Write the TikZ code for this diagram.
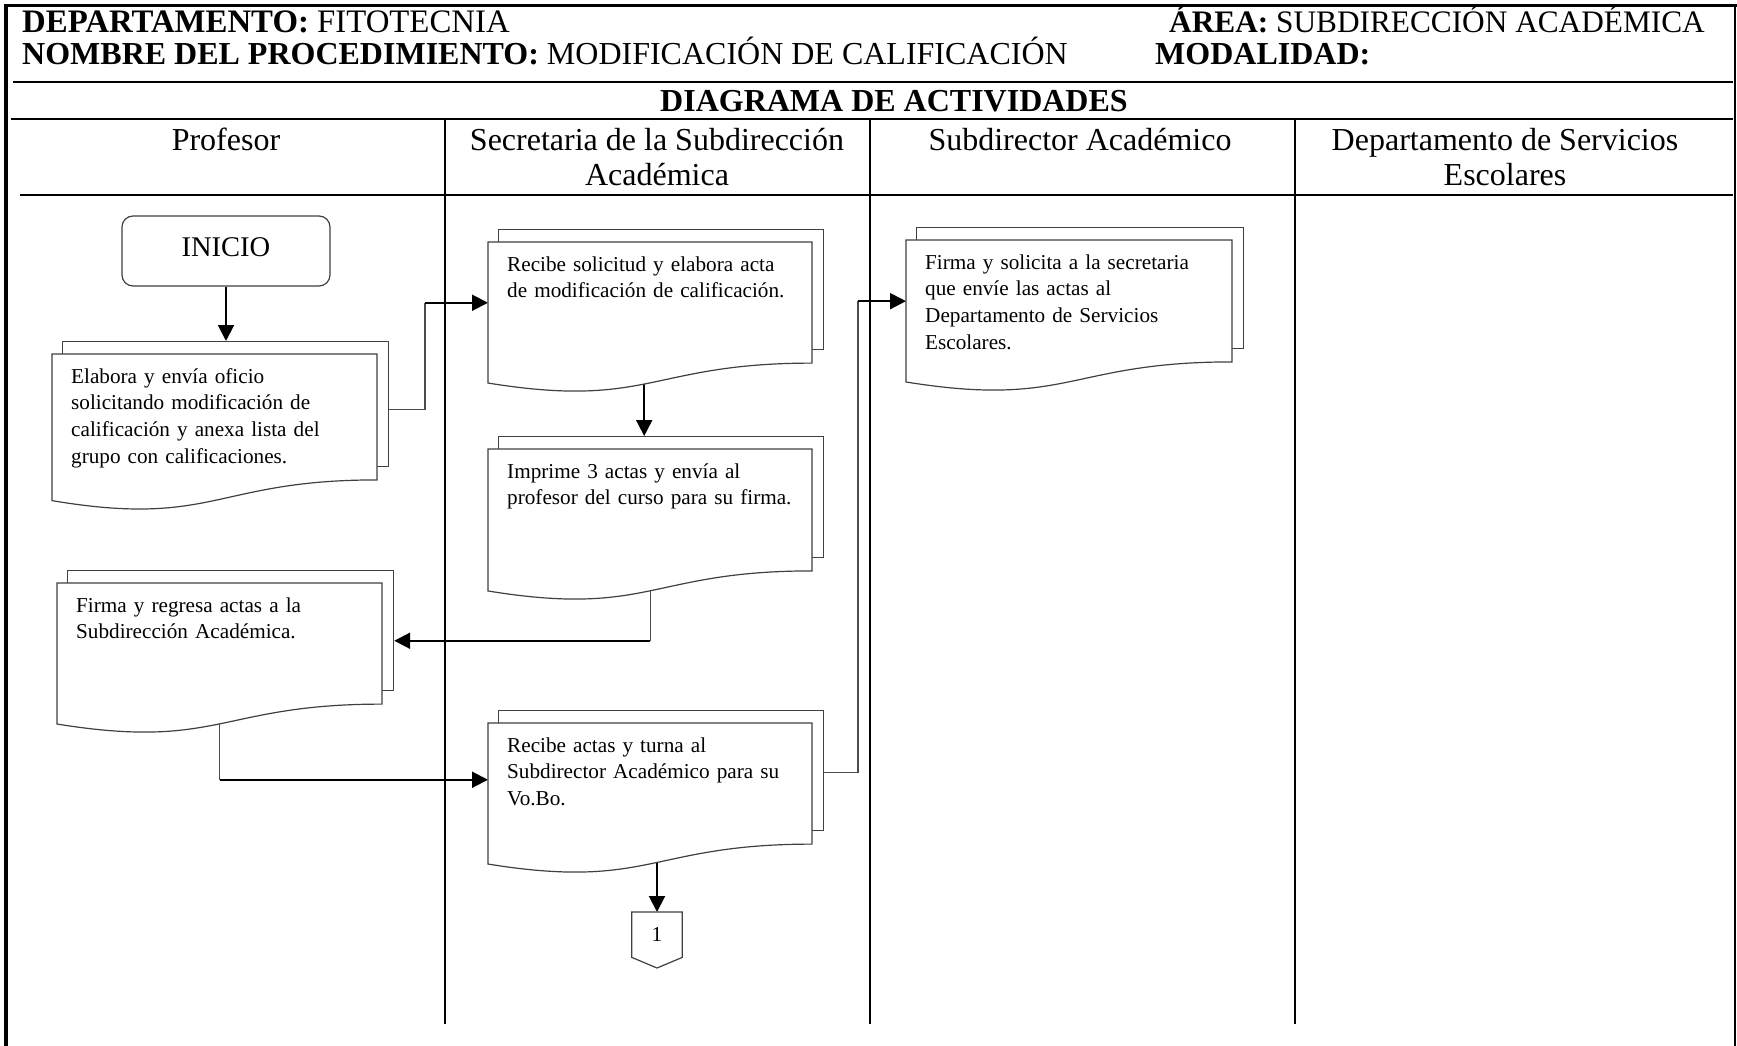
\documentclass[tikz,border=0pt]{standalone}
\usepackage{fontspec}
\setmainfont{Liberation Serif}
\usetikzlibrary{arrows.meta,calc}
\pgfdeclarelayer{bg}
\pgfsetlayers{bg,main}
\tikzset{
  lane/.style={line width=2pt, black},
  conn/.style={line width=2pt, black, -{Triangle[length=16pt,width=16pt]}},
  thinconn/.style={line width=1.3pt, black!70},
  shp/.style={draw=black!75, line width=1.2pt, fill=white},
  boxtext/.style={font=\fontsize{21.2}{26.7}\selectfont, align=left, anchor=north west, inner sep=0pt, text width=320pt},
  hdr/.style={font=\fontsize{32}{35}\selectfont, anchor=base west, inner sep=0pt},
  colh/.style={font=\fontsize{32}{35}\selectfont, align=center, anchor=north, inner sep=0pt},
}
% #1 name, #2 left, #3 top, #4 right, #5 height, #6 text
\newcommand\flowdoc[6]{%
  \pgfmathsetmacro\dL{#2}\pgfmathsetmacro\dT{#3}\pgfmathsetmacro\dR{#4}\pgfmathsetmacro\dH{#5}%
  \pgfmathsetmacro\dW{\dR-\dL}%
  \pgfmathsetmacro\dRB{\dT+0.802*\dH}%
  \pgfmathsetmacro\dLB{\dT+0.934*\dH}%
  \pgfmathsetmacro\dCB{\dT+1.1075*\dH}%
  \pgfmathsetmacro\dM{(\dL+\dR)/2}%
  \pgfmathsetmacro\bW{\dW+1}%
  \pgfmathsetmacro\bH{0.802*\dH-1}%
  \node[shp, rectangle, inner sep=0pt, minimum width=\bW pt, minimum height=\bH pt, anchor=north west] (#1b) at (\dL+10,\dT-13) {};
  \path[shp] (\dL,\dT) -- (\dR,\dT) -- (\dR,\dRB) .. controls (\dM,\dRB) and (\dM,\dCB) .. (\dL,\dLB) -- cycle;
  \pgfmathsetmacro\fH{0.802*\dH}%
  \node[inner sep=0pt, minimum width=\dW pt, minimum height=\fH pt, anchor=north west] (#1) at (\dL,\dT) {};
  \node[boxtext] (#1t) at (\dL+19,\dT+14) {\rule{0pt}{15pt}#6};
}
\begin{document}
\begin{tikzpicture}[x=1pt,y=-1pt]
\useasboundingbox (0,0) rectangle (1737,1046);
\begin{pgfonlayer}{bg}
\fill[white] (0,0) rectangle (1737,1046);
\end{pgfonlayer}

% frame and table lines
\draw[line width=3.5pt] (4,5.5) -- (1737,5.5);
\draw[line width=4pt] (6,4) -- (6,1046);
\draw[line width=1.5pt] (1735,4) -- (1735,1046);
\draw[line width=2pt] (13,82) -- (1733,82);
\draw[line width=2pt] (11,119) -- (1733,119);
\draw[line width=2pt] (20,195) -- (1733,195);
\draw[lane] (445,119) -- (445,1024);
\draw[lane] (870,119) -- (870,1024);
\draw[lane] (1295,119) -- (1295,1024);

% header texts
\node[hdr, font=\fontsize{32.8}{35}\selectfont] (dep) at (22,33) {\textbf{DEPARTAMENTO:} FITOTECNIA};
\node[hdr, font=\fontsize{31.3}{35}\selectfont] (area) at (1169,33) {\textbf{ÁREA:} SUBDIRECCIÓN ACADÉMICA};
\node[hdr] (nom) at (22,65) {\textbf{NOMBRE DEL PROCEDIMIENTO:} MODIFICACIÓN DE CALIFICACIÓN};
\node[hdr] (mod) at (1155,65) {\textbf{MODALIDAD:}};
\node[hdr, anchor=base] (diag) at (894,112) {\textbf{DIAGRAMA DE ACTIVIDADES}};

% column headers
\node[colh] (h1) at (226,128) {\rule{0pt}{22pt}Profesor};
\node[colh] (h2) at (657,128) {\rule{0pt}{22pt}Secretaria de la Subdirección\\Académica};
\node[colh] (h3) at (1080,128) {\rule{0pt}{22pt}Subdirector Académico};
\node[colh] (h4) at (1505,128) {\rule{0pt}{22pt}Departamento de Servicios\\Escolares};

% start
\node[draw=black!75, line width=1.2pt, fill=white, rounded corners=11pt, minimum width=208pt, minimum height=70pt, inner sep=0pt,
      text height=19pt, text depth=9pt, font=\fontsize{28.5}{30}\selectfont] (inicio) at (226,251) {INICIO};

% documents
\flowdoc{doc1}{52}{354}{377}{157}{Elabora y envía oficio\\solicitando modificación de\\calificación y anexa lista del\\grupo con calificaciones.}
\flowdoc{doc2}{488}{242}{812}{151}{Recibe solicitud y elabora acta\\de modificación de calificación.}
\flowdoc{doc3}{488}{449}{812}{152}{Imprime 3 actas y envía al\\profesor del curso para su firma.}
\flowdoc{doc4}{57}{583}{382}{151}{Firma y regresa actas a la\\Subdirección Académica.}
\flowdoc{doc5}{488}{723}{812}{151}{Recibe actas y turna al\\Subdirector Académico para su\\Vo.Bo.}
\flowdoc{doc6}{906}{240}{1232}{152}{Firma y solicita a la secretaria\\que envíe las actas al\\Departamento de Servicios\\Escolares.}

% off-page connector
\node[inner sep=0pt, minimum width=50pt, minimum height=45pt, anchor=north] (off) at (657,912) {};
\path[shp] (off.north west) -- (off.north east) -- (off.south east) -- (657,968) -- (off.south west) -- cycle;
\node[font=\fontsize{21.2}{24}\selectfont, inner sep=0pt] (offt) at (off.center) {1};

% connectors
\begin{pgfonlayer}{bg}
\draw[conn] (inicio.south) -- (inicio.south |- doc1b.north);
\coordinate (c12) at ($(doc2.west)+(-63,0)$);
\draw[thinconn] ([yshift=8pt]doc1.east) -| (c12);
\draw[conn] (c12) -- (doc2.west);
\draw[conn] ([xshift=-6pt]doc2.south) -- ([xshift=-6pt]doc2.south |- doc3b.north);
\coordinate (c34) at ([yshift=3pt]doc3.south |- doc4.east);
\draw[thinconn] (doc3.south) -- (c34);
\draw[conn] (c34) -- (c34 -| doc4b.east);
\coordinate (c45) at ([yshift=4pt]doc4.south |- doc5.west);
\draw[thinconn] (doc4.south) -- (c45);
\draw[conn] (c45) -- (c45 -| doc5.west);
\coordinate (c56) at ($(doc6.west)+(-48,0)$);
\draw[thinconn] ([yshift=11pt]doc5.east) -| (c56);
\draw[conn] (c56) -- (doc6.west);
\draw[conn] (doc5.south -| off.north) -- (off.north);
\end{pgfonlayer}
\end{tikzpicture}
\end{document}
